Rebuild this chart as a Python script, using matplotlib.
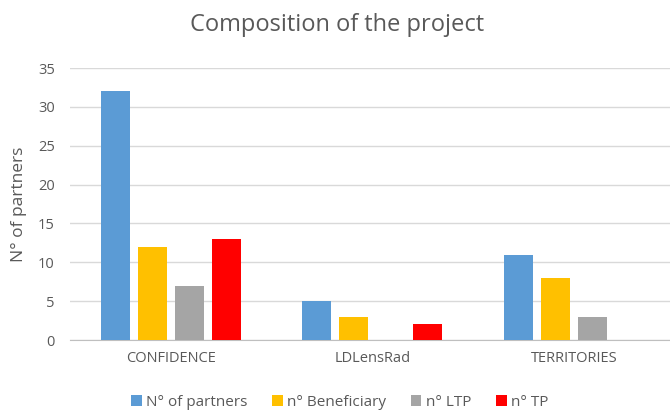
import numpy as np
import matplotlib.pyplot as plt

# -----------------------------------------------------------------------
# Data
# -----------------------------------------------------------------------
categories = ["CONFIDENCE", "LDLensRad", "TERRITORIES"]
series_names = ["N° of partners", "n° Beneficiary", "n° LTP", "n° TP"]
partners = [32, 5, 11]
beneficiary = [12, 3, 8]
ltp = [7, 0, 3]
tp = [13, 2, 0]
colors = ["#5b9bd5", "#ffc000", "#a5a5a5", "#ff0000"]

plt.rcParams["font.family"] = ["Open Sans", "DejaVu Sans"]
TEXT = "#595959"

fig = plt.figure(figsize=(6.7, 4.11), dpi=100)
ax = fig.add_axes([70 / 670, 1 - 340 / 411, 1 - 70 / 670, (340 - 68) / 411])

x = np.arange(len(categories))
slot = 0.1836
width = 0.144
for i, (name, vals, c) in enumerate(zip(series_names,
                                        [partners, beneficiary, ltp, tp], colors)):
    ax.bar(x + (i - 1.5) * slot, vals, width, color=c, label=name, zorder=3)

ax.set_xlim(-0.5, 2.477)
ax.set_ylim(0, 35)
ax.set_yticks(range(0, 36, 5))
ax.set_xticks(x)
ax.set_xticklabels(categories)
ax.tick_params(length=0, labelsize=10.5, colors=TEXT, pad=8)
ax.tick_params(axis="y", pad=11)
ax.grid(axis="y", color="#d9d9d9", linewidth=1, zorder=0)
for s in ["top", "right", "left"]:
    ax.spines[s].set_visible(False)
ax.spines["bottom"].set_color("#bfbfbf")

ax.set_ylabel("N° of partners", fontsize=12.5, color=TEXT, labelpad=8)
fig.text(0.503, 1 - 25 / 411, "Composition of the project",
         ha="center", va="center", fontsize=17, color=TEXT)

fig.legend(loc="center", bbox_to_anchor=(0.507, 1 - 402 / 411), ncol=4,
           frameon=False, fontsize=11, handlelength=0.7, handleheight=0.7,
           handletextpad=0.3, columnspacing=1.6, labelcolor=TEXT)

fig.savefig("out.png", dpi=100)
